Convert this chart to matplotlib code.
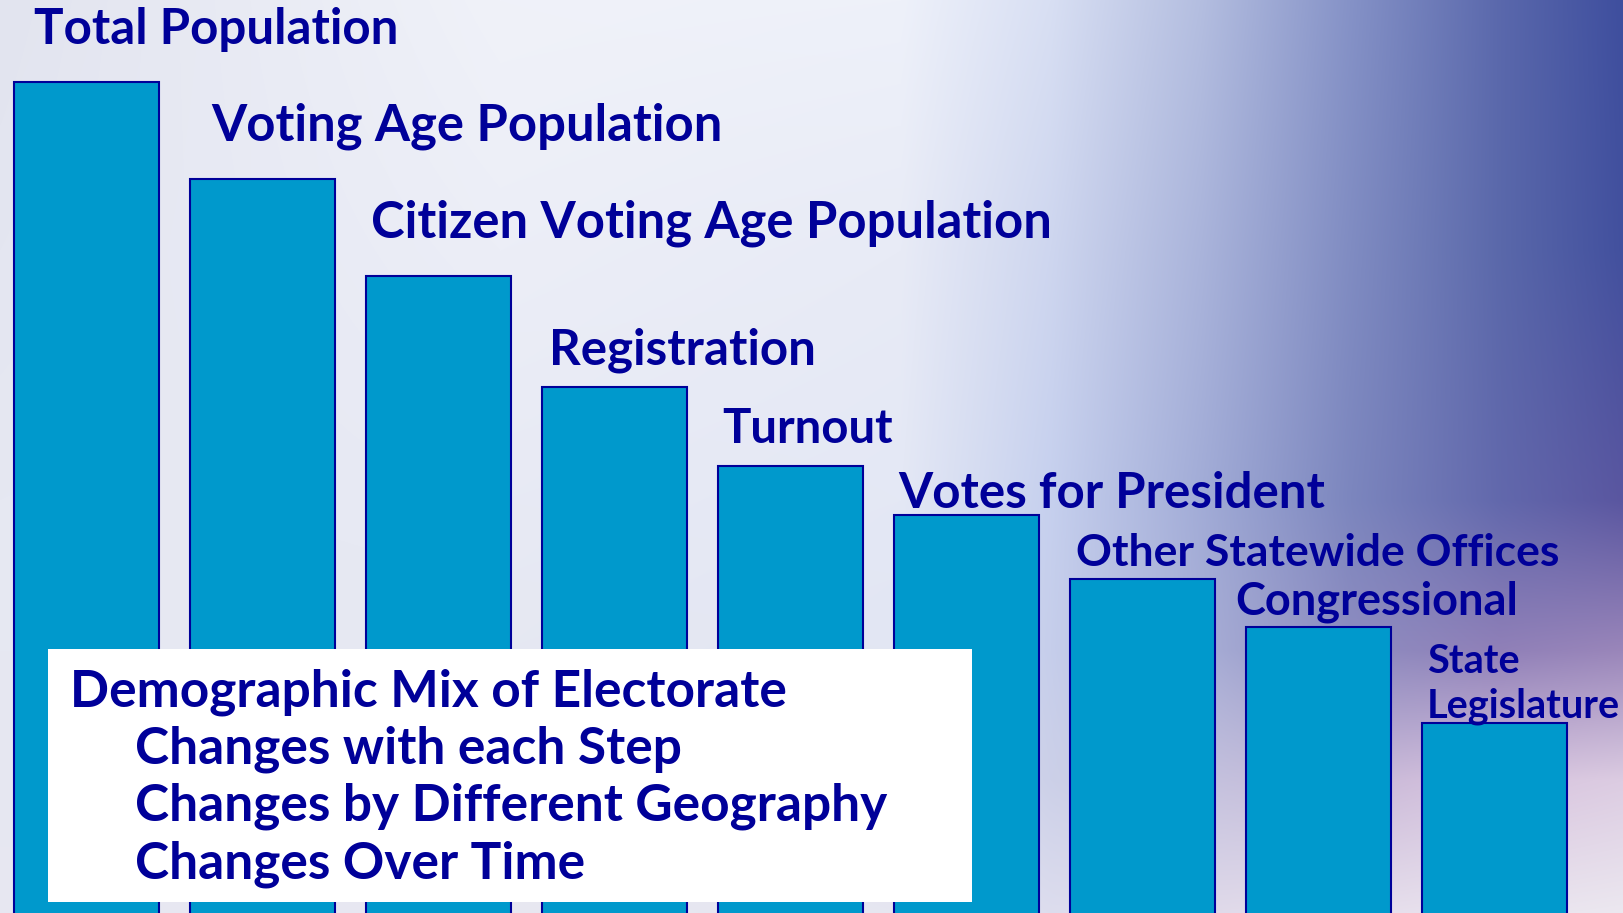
import numpy as np
import matplotlib.pyplot as plt
from matplotlib.patches import Rectangle
from matplotlib.colors import to_rgb

# === Data ===
steps = ['Total Population', 'Voting Age Population', 'Citizen Voting Age Population',
         'Registration', 'Turnout', 'Votes for President', 'Other Statewide Offices',
         'Congressional', 'State\nLegislature']
relative_size = [100, 88.6, 77.2, 64.1, 54.7, 49.0, 41.4, 35.7, 24.4]

box_title = 'Demographic Mix of Electorate'
box_points = ['Changes with each Step', 'Changes by Different Geography', 'Changes Over Time']

# === Style ===
W, H = 1624, 913
bar_fill = '#0099CC'
bar_edge = '#000099'
text_col = '#000099'
font = 'Lato'

# label layout: offset from bar top-left corner in pixels, font size
label_dx = [20, 21.4, 5.4, 7.3, 5.2, 5.2, 6.3, -10, 5.3]
label_dy = [38.5, 39, 38.5, 22.4, 23.4, 6.7, 12.6, 13.3, 6]
label_fs = [35.5, 36.5, 36.5, 35.5, 34, 35.5, 32, 32.5, 28.5]

# === Background gradient (slide backdrop) ===
bg_x = [0, 500, 900, 1050, 1200, 1350, 1500, 1624]
bg_y = [0, 250, 500, 650, 780, 913]
bg_rows = [
    ['#E2E4EF', '#F0F2F9', '#EEF1FA', '#D8DFF3', '#B4BEE0', '#8592C7', '#5A68AC', '#3E4E9E'],
    ['#E4E6F1', '#ECEEF7', '#E8EBF6', '#CED6EF', '#AAB4DB', '#808CC2', '#5A68AA', '#42509E'],
    ['#E6E8F2', '#E8EAF4', '#E4E8F5', '#C6D0EE', '#A2ACD7', '#7C86BE', '#6268AC', '#5A56A0'],
    ['#E6E8F2', '#E6E8F2', '#E2E6F3', '#C6CEEB', '#A8AED6', '#8E8CC0', '#9080B8', '#9A86BA'],
    ['#E6E7F1', '#E6E7F1', '#E2E4F0', '#CCD0E8', '#C4C2DE', '#C8B8D8', '#D8C4DE', '#DCCCE2'],
    ['#E8E8F1', '#E8E8F1', '#E6E6F0', '#DDDDEE', '#E0DAEA', '#E6DEEC', '#EAE4EE', '#ECE8F0'],
]
grid = np.array([[to_rgb(c) for c in row] for row in bg_rows])
xs = np.arange(W)
ys = np.arange(H)
tmp = np.stack([np.stack([np.interp(xs, bg_x, grid[r, :, ch]) for ch in range(3)], axis=-1)
                for r in range(len(bg_y))])
img = np.stack([np.stack([np.interp(ys, bg_y, tmp[:, i, ch]) for ch in range(3)], axis=-1)
                for i in range(W)], axis=1)

fig = plt.figure(figsize=(W / 100, H / 100), dpi=100)
bg = fig.add_axes([0, 0, 1, 1])
bg.imshow(img, extent=(0, W, H, 0), aspect='auto', interpolation='bilinear')
bg.axis('off')

# === Bars ===
ax = fig.add_axes([0, 0, 1, 1])
ax.patch.set_alpha(0)
pitch = 176.0
x = np.arange(len(steps))
bar_w = 145.0 / pitch
ax.bar(x, relative_size, width=bar_w, color=bar_fill, edgecolor=bar_edge, linewidth=1.5, zorder=2)
ax.set_xlim(-86 / pitch, (W - 86) / pitch)
# bars run off the bottom of the slide
ax.set_ylim(2, 109.73)
ax.axis('off')

for i, (lab, val) in enumerate(zip(steps, relative_size)):
    lines = lab.split('\n')
    for k, line in enumerate(lines):
        dy = label_dy[i] + (len(lines) - 1 - k) * 44
        ax.annotate(line, xy=(x[i] - bar_w / 2, val), xytext=(label_dx[i], dy),
                    textcoords='offset pixels', ha='left', va='baseline',
                    fontsize=label_fs[i], fontweight='bold', family=font,
                    color=text_col, zorder=3)

# === Text box ===
fig.patches.append(Rectangle((48 / W, 1 - 902 / H), (972 - 48) / W, (902 - 649) / H,
                             transform=fig.transFigure, facecolor='white',
                             edgecolor='none', zorder=5))
fig.text(70 / W, 1 - 706 / H, box_title, ha='left', va='baseline', fontsize=37,
         fontweight='bold', family=font, color=text_col, zorder=6)
for k, line in enumerate(box_points):
    fig.text(135 / W, 1 - (763 + 57.5 * k) / H, line, ha='left', va='baseline', fontsize=37,
             fontweight='bold', family=font, color=text_col, zorder=6)

fig.savefig('out.png', dpi=100)
